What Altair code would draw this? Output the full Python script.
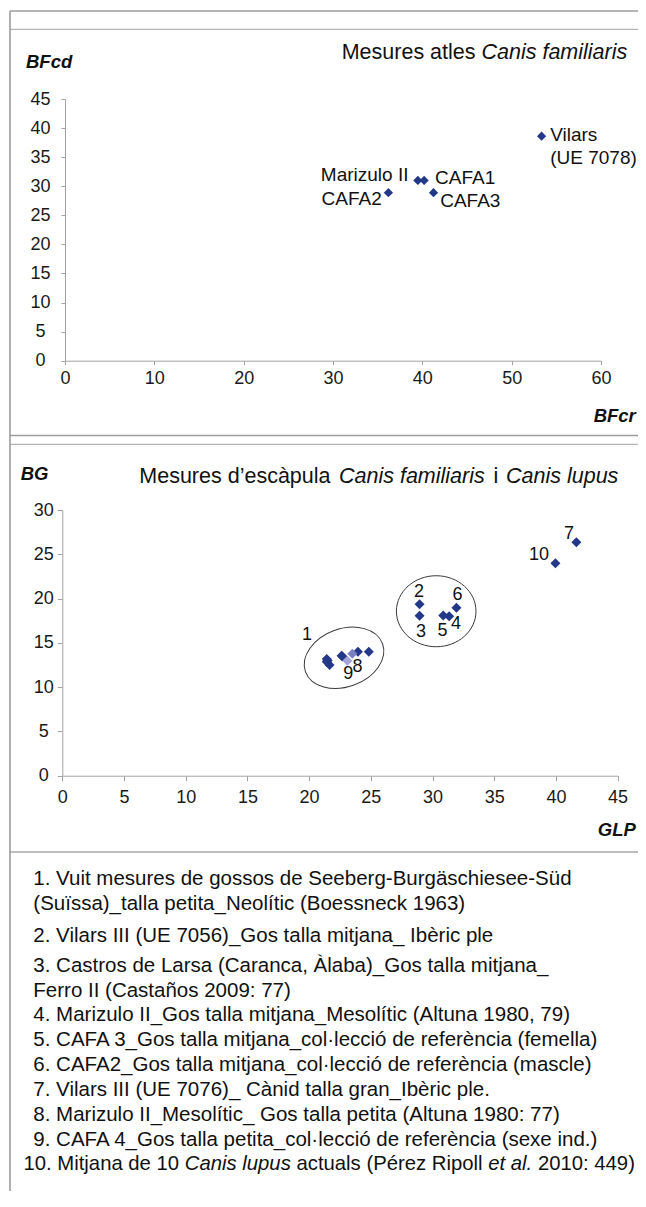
import altair as alt
import pandas as pd

FONT = "Liberation Sans"
NAVY = "#24388a"

# ---------------- data: atlas (Canis familiaris) ----------------
ATLAS_LABELS = ["Marizulo II", "CAFA1", "CAFA2", "CAFA3", "Vilars\n(UE 7078)"]
ATLAS_BFCR = [39.5, 40.2, 36.2, 41.25, 53.35]
ATLAS_BFCD = [31.0, 31.0, 28.9, 28.9, 38.6]

# ---------------- data: scapula (Canis familiaris / Canis lupus) ----------------
SCAP_GROUP = ["1", "1", "1", "1", "1", "1", "1", "1", "2", "3", "4", "5", "6", "7", "10", "8", "9"]
SCAP_GLP = [21.43, 21.43, 21.5, 21.66, 22.63, 22.7, 23.96, 24.84,
            28.95, 28.95, 31.35, 30.87, 31.94, 41.66, 39.96, 23.5, 23.1]
SCAP_BG = [13.17, 12.87, 13.0, 12.5, 13.55, 13.45, 14.0, 14.0,
           19.35, 18.06, 18.0, 18.1, 18.97, 26.35, 23.98, 13.77, 12.98]
GROUP_ORDER = ["1", "2", "3", "4", "5", "6", "7", "8", "9", "10"]
GROUP_COLORS = [NAVY, NAVY, NAVY, NAVY, NAVY, NAVY, NAVY, "#7c80c2", "#a4a4da", NAVY]

# cluster ellipses (centres)
ELLIPSE_GLP = [22.83, 30.3]
ELLIPSE_BG = [13.31, 18.57]

TOP_X_TICKS = [0, 10, 20, 30, 40, 50, 60]
TOP_Y_TICKS = [0, 5, 10, 15, 20, 25, 30, 35, 40, 45]
BOT_X_TICKS = [0, 5, 10, 15, 20, 25, 30, 35, 40, 45]
BOT_Y_TICKS = [0, 5, 10, 15, 20, 25, 30]

TOP_TITLE = [("Mesures atles", "normal"), ("Canis familiaris", "italic")]
BOT_TITLE = [("Mesures d\u2019escàpula", "normal"), ("Canis familiaris", "italic"),
             ("i", "normal"), ("Canis lupus", "italic")]

LEGEND_LINES = [
    "1. Vuit mesures de gossos de Seeberg-Burgäschiesee-Süd",
    "(Suïssa)_talla petita_Neolític (Boessneck 1963)",
    "2. Vilars III (UE 7056)_Gos talla mitjana_ Ibèric ple",
    "3. Castros de Larsa (Caranca, Àlaba)_Gos talla mitjana_",
    "Ferro II (Castaños 2009: 77)",
    "4. Marizulo II_Gos talla mitjana_Mesolític (Altuna 1980, 79)",
    "5. CAFA 3_Gos talla mitjana_col·lecció de referència (femella)",
    "6. CAFA2_Gos talla mitjana_col·lecció de referència (mascle)",
    "7. Vilars III (UE 7076)_ Cànid talla gran_Ibèric ple.",
    "8. Marizulo II_Mesolític_ Gos talla petita (Altuna 1980: 77)",
    "9. CAFA 4_Gos talla petita_col·lecció de referència (sexe ind.)",
]
LEGEND_LAST = [("10. Mitjana de 10", "normal"), ("Canis lupus", "italic"),
               ("actuals (Pérez Ripoll", "normal"), ("et al.", "italic"),
               ("2010: 449)", "normal")]

# ---------------- layout (pixels, chart coordinates) ----------------
W, H = 630, 1183
TOP_X_RANGE = [57, 593]
TOP_Y_RANGE = [352.7, 91]
BOT_X_RANGE = [54.3, 609.6]
BOT_Y_RANGE = [767.7, 502]

ONE = pd.DataFrame({"k": [0]})


def txt(s, x, y, size, align="left", style="normal", weight="normal", color="#111111"):
    return alt.Chart(ONE).mark_text(
        align=align, baseline="middle", fontSize=size, font=FONT,
        fontStyle=style, fontWeight=weight, color=color
    ).encode(x=alt.value(x), y=alt.value(y), text=alt.value(s))


def hrule(y, x1=2, x2=W, color="#9c9c9c", w=1.3):
    return alt.Chart(ONE).mark_rule(color=color, strokeWidth=w).encode(
        x=alt.value(x1), x2=alt.value(x2), y=alt.value(y))


def axis(orient, offset, values, tick, pad, align=None):
    kw = dict(orient=orient, offset=offset, values=values, title=None, grid=False,
              tickSize=tick, labelPadding=pad, labelFontSize=18, labelFont=FONT,
              labelColor="#1a1a1a", domainColor="#a3a3a3", tickColor="#a3a3a3",
              domainWidth=1, tickWidth=1, labelOverlap=False, labelFlush=False)
    if align:
        kw["labelAlign"] = align
    return alt.Axis(**kw)


# ---------------- top chart ----------------
atlas = pd.DataFrame({"label": ATLAS_LABELS, "BFcr": ATLAS_BFCR, "BFcd": ATLAS_BFCD})
xt = alt.X("BFcr:Q", scale=alt.Scale(domain=[0, 60], range=TOP_X_RANGE, nice=False, zero=False),
           axis=axis("bottom", TOP_Y_RANGE[0] - H, TOP_X_TICKS, 4, 4.5))
yt = alt.Y("BFcd:Q", scale=alt.Scale(domain=[0, 45], range=TOP_Y_RANGE, nice=False, zero=False),
           axis=axis("left", -TOP_X_RANGE[0], TOP_Y_TICKS, 4, 21, "center"))

top_layers = [alt.Chart(atlas).mark_point(shape="diamond", filled=True, size=85, color=NAVY,
                                          opacity=1).encode(x=xt, y=yt)]
TOP_LABEL_STYLE = {
    "Marizulo II": (-9.4, -5.9, "right", "middle"),
    "CAFA1": (11, -2.9, "left", "middle"),
    "CAFA2": (-6.6, 6.7, "right", "middle"),
    "CAFA3": (6.7, 8.4, "left", "middle"),
    "Vilars\n(UE 7078)": (8.6, -10.5, "left", "top"),
}
for lab, (dx, dy, al, bl) in TOP_LABEL_STYLE.items():
    top_layers.append(
        alt.Chart(atlas).transform_filter(alt.datum.label == lab).mark_text(
            dx=dx, dy=dy, align=al, baseline=bl, fontSize=19, font=FONT,
            color="#111111", lineBreak="\n", lineHeight=23
        ).encode(x=xt, y=yt, text="label:N")
    )
top = alt.layer(*top_layers)

# ---------------- bottom chart ----------------
scap = pd.DataFrame({"grp": SCAP_GROUP, "GLP": SCAP_GLP, "BG": SCAP_BG})
xb = alt.X("GLP:Q", scale=alt.Scale(domain=[0, 45], range=BOT_X_RANGE, nice=False, zero=False),
           axis=axis("bottom", BOT_Y_RANGE[0] - H, BOT_X_TICKS, 5, 7.5))
yb = alt.Y("BG:Q", scale=alt.Scale(domain=[0, 30], range=BOT_Y_RANGE, nice=False, zero=False),
           axis=axis("left", -BOT_X_RANGE[0], BOT_Y_TICKS, 5, 14, "center"))


def ellipse_path(ry):
    k = 0.5523
    return (f"M 1 0 C 1 {k*ry:.4f} {k:.4f} {ry:.4f} 0 {ry:.4f} "
            f"C {-k:.4f} {ry:.4f} -1 {k*ry:.4f} -1 0 "
            f"C -1 {-k*ry:.4f} {-k:.4f} {-ry:.4f} 0 {-ry:.4f} "
            f"C {k:.4f} {-ry:.4f} 1 {-k*ry:.4f} 1 0 Z")


ell = pd.DataFrame({"GLP": ELLIPSE_GLP, "BG": ELLIPSE_BG, "id": ["a", "b"]})
ELLIPSE_STYLE = {"a": (0.707, 82, 340), "b": (0.892, 79.6, 0)}
bot_layers = []
for eid, (ry, wpx, ang) in ELLIPSE_STYLE.items():
    bot_layers.append(
        alt.Chart(ell).transform_filter(alt.datum.id == eid).mark_point(
            shape=ellipse_path(ry), size=wpx * wpx, filled=False, color="#3a3a3a",
            strokeWidth=1, opacity=1, angle=ang
        ).encode(x=xb, y=yb)
    )
bot_layers.append(
    alt.Chart(scap).mark_point(shape="diamond", filled=True, size=100, opacity=1).encode(
        x=xb, y=yb,
        color=alt.Color("grp:N", scale=alt.Scale(domain=GROUP_ORDER, range=GROUP_COLORS), legend=None),
    )
)
anchors = scap.drop_duplicates("grp")
BOT_LABEL_STYLE = {
    "1": (-19.8, -24.5, "center"),
    "2": (-0.5, -12.3, "center"),
    "3": (1.5, 16.3, "center"),
    "4": (6.8, 8.2, "center"),
    "5": (-0.7, 15.6, "center"),
    "6": (1, -12.4, "center"),
    "7": (-7.4, -8, "center"),
    "8": (5.3, 13.3, "center"),
    "9": (0.8, 13.6, "center"),
    "10": (-6.4, -8.3, "right"),
}
for g, (dx, dy, al) in BOT_LABEL_STYLE.items():
    bot_layers.append(
        alt.Chart(anchors).transform_filter(alt.datum.grp == g).mark_text(
            dx=dx, dy=dy, align=al, baseline="middle", fontSize=18, font=FONT, color="#111111"
        ).encode(x=xb, y=yb, text="grp:N")
    )
bottom = alt.layer(*bot_layers)

# ---------------- frame, titles, legend ----------------
deco = [
    hrule(3), hrule(21.3, color="#b5b5b5"), hrule(427.5), hrule(436.3, color="#b5b5b5"),
    hrule(844, color="#a8a8a8"),
    alt.Chart(ONE).mark_rule(color="#9c9c9c", strokeWidth=1.6).encode(
        x=alt.value(2), y=alt.value(3), y2=alt.value(H)),
]

texts = [
    txt("BFcd", 18, 54.3, 18.5, style="italic", weight="bold"),
    txt("BFcr", 627.8, 408, 18.5, align="right", style="italic", weight="bold"),
    txt("BG", 12.7, 466.3, 18.5, style="italic", weight="bold"),
    txt("GLP", 627.8, 821.5, 18.5, align="right", style="italic", weight="bold"),
]
TOP_TITLE_X = [333.7, 473.5]
for (s, st), x in zip(TOP_TITLE, TOP_TITLE_X):
    texts.append(txt(s, x, 44.9, 21.5, style=st))
BOT_TITLE_X = [131.3, 331, 485.5, 498]
for (s, st), x in zip(BOT_TITLE, BOT_TITLE_X):
    texts.append(txt(s, x, 468.9, 21.5, style=st))

LEGEND_Y = [870.7, 896.2, 928.2, 958.2, 983.2, 1007.2, 1032.2, 1057.2, 1081.5, 1106.5, 1131.5]
for s, y in zip(LEGEND_LINES, LEGEND_Y):
    texts.append(txt(s, 25.3, y, 20.5))
LEGEND_LAST_X = [15.5, 176.8, 288.5, 480.2, 529.9]
for (s, st), x in zip(LEGEND_LAST, LEGEND_LAST_X):
    texts.append(txt(s, x, 1155.9, 20.3, style=st))

chart = (
    alt.layer(*deco, top, bottom, *texts)
    .resolve_scale(x="independent", y="independent", color="independent")
    .properties(width=W, height=H, autosize=alt.AutoSizeParams(type="none"), padding=0)
    .configure_view(stroke=None)
)

chart.save("out.html", embed_options={"renderer": "svg", "actions": False})
